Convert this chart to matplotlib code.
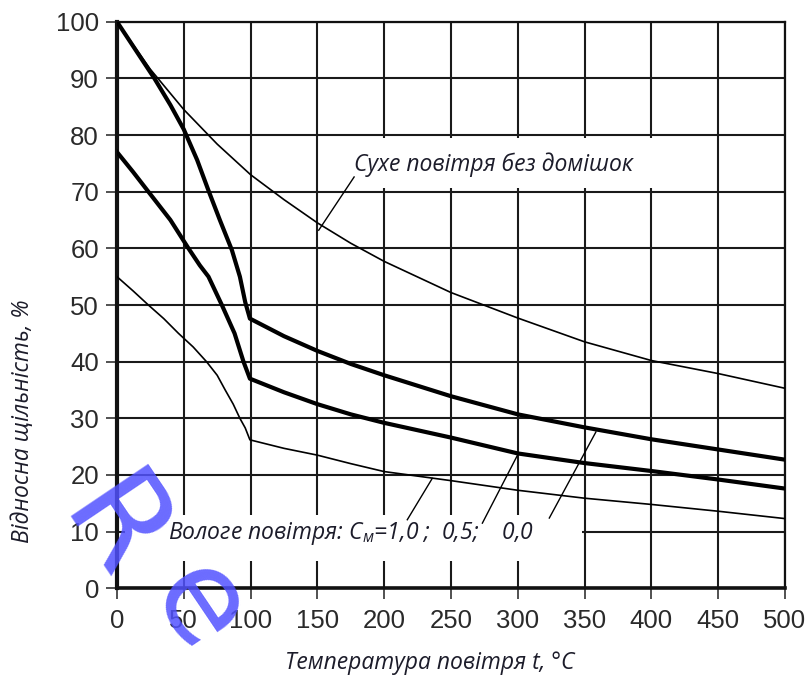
import matplotlib
matplotlib.use('Agg')
import matplotlib.pyplot as plt
from matplotlib.patches import Rectangle

plt.rcParams['mathtext.fontset'] = 'custom'
plt.rcParams['mathtext.it'] = 'Open Sans:italic'
plt.rcParams['mathtext.rm'] = 'Open Sans:italic'

# ---- data ----
t_dry = [0, 25, 50, 75, 100, 125, 150, 175, 200, 250, 300, 350, 400, 450, 500]
rho_dry = [100, 91.6, 84.5, 78.4, 73.0, 68.6, 64.5, 60.9, 57.7, 52.2, 47.7, 43.5, 40.2, 37.9, 35.3]

t_c00 = [0, 14, 28, 40, 50, 60, 68.5, 77, 86, 92, 96, 99.5, 125, 150, 175, 200, 250, 300, 350, 400, 450, 500]
rho_c00 = [100, 95, 90, 85.3, 81, 75.6, 70.2, 65, 59.7, 55, 50.5, 47.6, 44.5, 41.9, 39.6, 37.6, 33.9, 30.7, 28.4, 26.3, 24.5, 22.7]

t_c05 = [0, 12, 23.5, 40, 53.5, 62, 68.5, 78.5, 88, 94.7, 99.5, 125, 150, 175, 200, 250, 300, 350, 400, 450, 500]
rho_c05 = [77, 73.5, 70, 65, 60, 57, 55, 50, 45, 40, 37.0, 34.6, 32.5, 30.7, 29.2, 26.6, 23.8, 22.1, 20.7, 19.2, 17.6]

t_c10 = [0, 12, 23.5, 35, 46, 57, 67, 75, 81, 87, 92, 96, 99.5, 125, 150, 175, 200, 250, 300, 350, 400, 450, 500]
rho_c10 = [55, 52.5, 50, 47.6, 45, 42.6, 40, 37.6, 35, 32.5, 30, 28.3, 26.2, 24.7, 23.5, 22.0, 20.6, 19.0, 17.3, 15.9, 14.8, 13.6, 12.3]

x_ticks = [0, 50, 100, 150, 200, 250, 300, 350, 400, 450, 500]
y_ticks = [0, 10, 20, 30, 40, 50, 60, 70, 80, 90, 100]

label_dry = 'Сухе повітря без домішок'
label_wet = 'Вологе повітря: $C_{м}$=1,0 ;  0,5;    0,0'
x_label = 'Температура повітря t, °C'
y_label = 'Відносна щільність, %'

# ---- figure ----
tick_family = ['Liberation Sans', 'DejaVu Sans']
txt_family = ['Open Sans', 'DejaVu Sans']
txt_color = '#1c1c2a'
fs = 16.5

fig = plt.figure(figsize=(8.09, 6.79), dpi=100)
ax = fig.add_axes([0.1446, 0.1336, 0.8257, 0.8344])
ax.set_xlim(0, 500)
ax.set_ylim(0, 100)
ax.set_xticks(x_ticks)
ax.set_yticks(y_ticks)
ax.grid(True, color='#1a1a1a', lw=1.5)
ax.set_axisbelow(True)
for s in ax.spines.values():
    s.set_linewidth(1.6)
    s.set_color('#111111')
ax.spines['left'].set_linewidth(3.0)
ax.spines['bottom'].set_linewidth(2.6)
ax.tick_params(direction='out', length=8, width=1.2, color='#333333',
               labelsize=18.5, labelcolor='#2a2a2a')
ax.tick_params(axis='x', pad=7)
ax.tick_params(axis='y', pad=5)
for lab in ax.get_xticklabels() + ax.get_yticklabels():
    lab.set_family(tick_family)

# white boxes behind annotations (interrupting the grid)
ax.add_patch(Rectangle((160, 70.6), 265, 8.8, fc='white', ec='none', zorder=1))
ax.add_patch(Rectangle((6, 4.8), 342, 8.2, fc='white', ec='none', zorder=1))

ax.plot(t_dry, rho_dry, color='black', lw=1.2, zorder=3)
ax.plot(t_c10, rho_c10, color='black', lw=1.2, zorder=3)
ax.plot(t_c05, rho_c05, color='black', lw=3.0, zorder=3, solid_joinstyle='round')
ax.plot(t_c00, rho_c00, color='black', lw=3.0, zorder=3, solid_joinstyle='round')

# leader lines
ax.plot([177.5, 151], [72.6, 63.2], color='black', lw=1.0, zorder=3)
ax.plot([217.3, 236], [12.1, 19.4], color='black', lw=1.0, zorder=3)
ax.plot([273.5, 299.8], [11.5, 23.5], color='black', lw=1.0, zorder=3)
ax.plot([323.6, 358.5], [12.4, 27.6], color='black', lw=1.0, zorder=3)

ax.text(177.5, 74.8, label_dry, ha='left', va='center', fontsize=fs,
        style='italic', family=txt_family, color=txt_color, zorder=4)
ax.text(38.5, 9.6, label_wet, ha='left', va='center', fontsize=fs,
        style='italic', family=txt_family, color=txt_color, zorder=4)

fig.text(430 / 809, 1 - 663 / 679, x_label, ha='center', va='center', fontsize=fs,
         style='italic', family=txt_family, color=txt_color)
fig.text(23 / 809, 1 - 421 / 679, y_label, ha='center', va='center', fontsize=fs,
         style='italic', family=txt_family, color=txt_color, rotation=90)

# blue watermark letters
wm = dict(color=(0.32, 0.32, 1.0), alpha=0.85, fontsize=92, family='DejaVu Sans',
          rotation=-56, rotation_mode='anchor', ha='center', va='center', zorder=10)
fig.text(111 / 809, 1 - 532 / 679, 'R', **wm)
fig.text(198 / 809, 1 - 609 / 679, 'e', **wm)

fig.savefig('out.png', dpi=100)
